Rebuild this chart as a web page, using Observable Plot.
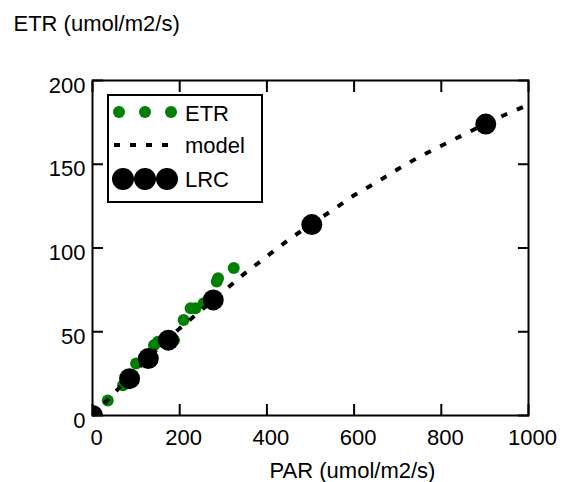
<!DOCTYPE html>
<html><head><meta charset="utf-8">
<script src="https://cdn.jsdelivr.net/npm/d3@7"></script>
<script src="https://cdn.jsdelivr.net/npm/@observablehq/plot@0.6"></script>
<style>
html,body{margin:0;padding:0;background:#fff;}
#chart{position:relative;width:562px;height:482px;}
</style></head><body><div id="chart"></div>
<script>
// ETR measurements (green dots)
const etrPAR = [35, 70, 80, 100, 118, 141, 150, 187, 209, 225, 236, 255, 285, 288, 324];
const etrVal = [9, 18, 21, 31, 33, 42, 44, 45, 57, 64, 64, 67, 80, 82, 88];
// model curve (dashed)
const modelPAR = [0, 50, 100, 150, 200, 250, 300, 350, 400, 450, 500, 550, 600, 650, 700, 750, 800, 850, 900, 950, 1000, 1005];
const modelETR = [0, 13.5, 27, 40, 52, 63, 74, 85, 95, 105, 114, 122.5, 131.5, 139, 147, 154.5, 161, 167.5, 174, 180, 185.5, 186];
// LRC points (large black dots)
const lrcPAR = [0, 85, 128, 174, 277, 503, 902];
const lrcETR = [0, 22, 34, 45, 69, 114, 174];
// ticks and labels
const xTicks = [0, 200, 400, 600, 800, 1000];
const yTicks = [0, 50, 100, 150, 200];
const xTitle = "PAR (umol/m2/s)";
const yTitle = "ETR (umol/m2/s)";
const legendLabels = ["ETR", "model", "LRC"];
const green = "#008000";

const etr = etrPAR.map((x, i) => ({x, y: etrVal[i]}));
const model = modelPAR.map((x, i) => ({x, y: modelETR[i]}));
const lrc = lrcPAR.map((x, i) => ({x, y: lrcETR[i]}));

const plot = Plot.plot({
  width: 562, height: 482,
  marginLeft: 92, marginRight: 34, marginTop: 80, marginBottom: 67,
  style: {fontFamily: "'Liberation Sans', Arial, sans-serif", fontSize: "22px", color: "#000", background: "#fff", overflow: "visible"},
  x: {domain: [0, 1000], label: null},
  y: {domain: [0, 200], label: null},
  marks: [
    Plot.dot(etr, {x: "x", y: "y", r: 6, fill: green}),
    Plot.line(model, {x: "x", y: "y", stroke: "#000", strokeWidth: 4, strokeDasharray: "6.5,10.5", strokeLinecap: "butt"}),
    Plot.dot(lrc, {x: "x", y: "y", r: 10.5, fill: "#000", clip: true}),
    Plot.frame({stroke: "#000", strokeWidth: 2, strokeOpacity: 1}),
    Plot.axisX({ticks: xTicks, tickSize: -11, tickFormat: () => "", strokeWidth: 2, label: null}),
    Plot.axisX({ticks: xTicks, tickSize: 0, tickPadding: 14, dx: 4, label: null, fontSize: 22, tickFormat: d => String(d)}),
    Plot.axisX({anchor: "top", ticks: xTicks, tickSize: -11, tickFormat: () => "", strokeWidth: 2, label: null}),
    Plot.axisY({ticks: yTicks, tickSize: -11, tickFormat: () => "", strokeWidth: 2, label: null}),
    Plot.axisY({ticks: yTicks, tickSize: 0, tickPadding: 7, dy: 5, label: null, fontSize: 22, tickFormat: d => String(d)}),
    Plot.axisY({anchor: "right", ticks: yTicks, tickSize: -11, tickFormat: () => "", strokeWidth: 2, label: null}),
    Plot.text([xTitle], {frameAnchor: "bottom", dx: 42, dy: 62, lineAnchor: "bottom", fontSize: 22}),
    Plot.text([yTitle], {frameAnchor: "top-left", textAnchor: "start", dx: -79, dy: -50, lineAnchor: "bottom", fontSize: 22})
  ]
});

// legend
const svg = d3.select(plot);
const lg = svg.append("g").attr("class", "legend").attr("text-anchor", "start");
lg.append("rect").attr("x", 108).attr("y", 95).attr("width", 154).attr("height", 107)
  .attr("fill", "#fff").attr("stroke", "#000").attr("stroke-width", 2);
[119, 145, 171].forEach(cx => lg.append("circle").attr("cx", cx).attr("cy", 112).attr("r", 6).attr("fill", green));
lg.append("line").attr("x1", 114).attr("x2", 170).attr("y1", 145).attr("y2", 145)
  .attr("stroke", "#000").attr("stroke-width", 4).attr("stroke-dasharray", "6,10");
[123, 145, 167].forEach(cx => lg.append("circle").attr("cx", cx).attr("cy", 179).attr("r", 11).attr("fill", "#000"));
[[121, legendLabels[0]], [153, legendLabels[1]], [187, legendLabels[2]]].forEach(([y, t]) =>
  lg.append("text").attr("x", 185).attr("y", y).attr("font-size", 22).attr("fill", "#000").attr("text-anchor", "start").text(t));

document.getElementById("chart").appendChild(plot);
</script>
</body></html>
